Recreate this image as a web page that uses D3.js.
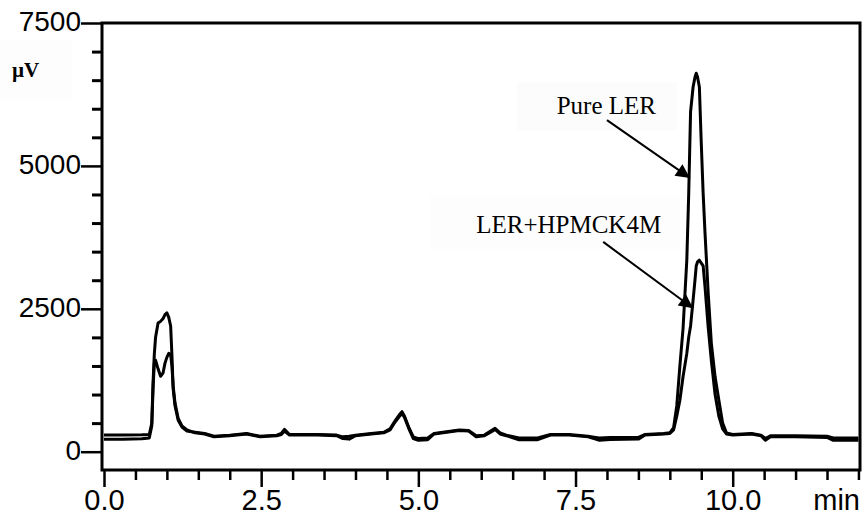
<!DOCTYPE html>
<html>
<head>
<meta charset="utf-8">
<script src="https://cdn.jsdelivr.net/npm/d3@7"></script>
<style>
  html, body { margin: 0; padding: 0; background: #fff; }
  svg { display: block; }
</style>
</head>
<body>
<svg id="chart" width="867" height="520"></svg>
<script>
// Retention times (min) shared by both chromatograms
const times = [0, 0.3, 0.6, 0.72, 0.76, 0.78, 0.80, 0.82, 0.86, 0.90, 0.94, 0.97, 1.00, 1.03, 1.06, 1.08, 1.10, 1.13, 1.18, 1.24, 1.32, 1.45, 1.6, 1.75, 2.0, 2.27, 2.48, 2.75, 2.82, 2.87, 2.95, 3.1, 3.4, 3.7, 3.8, 3.9, 4.0, 4.25, 4.45, 4.55, 4.63, 4.70, 4.74, 4.78, 4.85, 4.92, 5.0, 5.15, 5.25, 5.45, 5.65, 5.8, 5.92, 6.05, 6.15, 6.22, 6.30, 6.40, 6.6, 6.9, 7.1, 7.4, 7.7, 7.82, 7.88, 8.05, 8.5, 8.6, 8.9, 9.0, 9.06, 9.11, 9.16, 9.21, 9.27, 9.30, 9.33, 9.37, 9.40, 9.42, 9.44, 9.47, 9.50, 9.53, 9.56, 9.61, 9.66, 9.72, 9.78, 9.84, 9.90, 10.0, 10.3, 10.45, 10.52, 10.6, 11.0, 11.5, 11.6, 12.0];

// Detector response (µV) for pure LER
const pureLER = [290, 290, 295, 300, 500, 1200, 1700, 2000, 2250, 2280, 2330, 2400, 2430, 2350, 2200, 1700, 1100, 800, 550, 430, 360, 340, 320, 270, 290, 320, 270, 290, 320, 390, 300, 300, 300, 290, 260, 270, 290, 320, 340, 400, 540, 650, 700, 620, 420, 260, 230, 240, 320, 350, 380, 370, 280, 290, 360, 410, 330, 290, 240, 240, 300, 300, 270, 250, 240, 250, 250, 300, 320, 330, 420, 800, 1500, 2150, 3350, 4500, 5950, 6380, 6550, 6620, 6560, 6380, 5400, 4520, 3820, 2780, 1900, 1310, 900, 500, 330, 300, 320, 290, 230, 280, 280, 270, 240, 240];

// Detector response (µV) for LER + HPMC K4M
const lerHPMC = [220, 220, 225, 240, 450, 1100, 1550, 1600, 1450, 1320, 1380, 1550, 1650, 1720, 1700, 1500, 1150, 850, 580, 450, 380, 330, 310, 260, 280, 310, 260, 280, 300, 360, 290, 290, 290, 280, 230, 220, 280, 310, 330, 380, 520, 620, 670, 600, 400, 230, 200, 210, 310, 340, 370, 360, 260, 280, 340, 390, 310, 280, 210, 210, 290, 290, 260, 220, 200, 215, 220, 290, 310, 320, 380, 620, 900, 1310, 1720, 2000, 2200, 2650, 3000, 3250, 3320, 3350, 3300, 3250, 2880, 2180, 1600, 1000, 620, 400, 310, 290, 310, 280, 200, 260, 260, 250, 200, 200];

// Axis ticks
const xMajorTicks = [0, 2.5, 5, 7.5, 10];
const xTickLabels = ["0.0", "2.5", "5.0", "7.5", "10.0"];
const yMajorTicks = [0, 2500, 5000, 7500];
const yTickLabels = ["0", "2500", "5000", "7500"];

// Annotation labels and arrows, positioned in data units (time, µV)
const annotations = [
  { text: "Pure LER",    labelT: 7.20, labelV: 5910, tailT: 8.00, tailV: 5800, tipT: 9.32, tipV: 4790 },
  { text: "LER+HPMCK4M", labelT: 5.92, labelV: 3830, tailT: 7.94, tailV: 3670, tipT: 9.37, tipV: 2510 }
];

const svg = d3.select("#chart");
const box = { left: 102, right: 860, top: 23, bottom: 470 };

const x = d3.scaleLinear().domain([0, 10]).range([104, 732.7]);
const y = d3.scaleLinear().domain([0, 7500]).range([451.7, 23]);

const tickFont = "'Liberation Sans', Arial, sans-serif";
const serif = "'Liberation Serif', 'Times New Roman', serif";

// Faint label backdrops
svg.append("rect").attr("x", 0).attr("y", 40).attr("width", 72).attr("height", 60).attr("fill", "#fdfdfd");
svg.append("rect").attr("x", 517).attr("y", 82).attr("width", 160).attr("height", 48).attr("fill", "#fcfcfc");
svg.append("rect").attr("x", 430).attr("y", 197).attr("width", 250).attr("height", 52).attr("fill", "#fdfdfd");

// Chromatogram traces
svg.append("clipPath").attr("id", "plotClip")
  .append("rect").attr("x", box.left).attr("y", box.top)
  .attr("width", box.right - box.left).attr("height", box.bottom - box.top);

const line = d3.line().x(d => x(d[0])).y(d => y(d[1]));
const traces = svg.append("g").attr("clip-path", "url(#plotClip)");
[pureLER, lerHPMC].forEach(vals => {
  traces.append("path")
    .datum(times.map((t, i) => [t, vals[i]]))
    .attr("d", line)
    .attr("fill", "none")
    .attr("stroke", "#000")
    .attr("stroke-width", 3)
    .attr("stroke-linejoin", "round");
});

// Plot frame
svg.append("rect")
  .attr("x", box.left).attr("y", box.top)
  .attr("width", box.right - box.left).attr("height", box.bottom - box.top)
  .attr("fill", "none").attr("stroke", "#000").attr("stroke-width", 3);

// Y axis: major ticks with labels, minor ticks every 500 µV
const yMinor = d3.range(500, 7500, 500).filter(v => v % 2500 !== 0);
svg.append("g").attr("transform", `translate(${box.left},0)`)
  .call(d3.axisLeft(y).tickValues(yMinor).tickSize(10).tickFormat(""))
  .call(g => g.select(".domain").remove())
  .call(g => g.selectAll("line").attr("stroke-width", 3));

const yAxis = svg.append("g").attr("transform", `translate(${box.left},0)`)
  .call(d3.axisLeft(y).tickValues(yMajorTicks).tickSize(21).tickPadding(0)
    .tickFormat((d, i) => yTickLabels[i]))
  .call(g => g.select(".domain").remove());
yAxis.selectAll("line").attr("stroke-width", 2.5);
yAxis.selectAll("text")
  .attr("font-family", tickFont).attr("font-size", 28).attr("fill", "#000")
  .attr("dy", "0.28em");

// X axis: major ticks with labels, minor ticks every 0.5 min
const xMinor = d3.range(0.5, 12.01, 0.5).filter(v => Math.abs(v / 2.5 - Math.round(v / 2.5)) > 1e-6);
svg.append("g").attr("transform", `translate(0,${box.bottom})`)
  .call(d3.axisBottom(x).tickValues(xMinor).tickSize(10).tickFormat(""))
  .call(g => g.select(".domain").remove())
  .call(g => g.selectAll("line").attr("stroke-width", 2.5));

const xAxis = svg.append("g").attr("transform", `translate(0,${box.bottom})`)
  .call(d3.axisBottom(x).tickValues(xMajorTicks).tickSize(17).tickPadding(2)
    .tickFormat((d, i) => xTickLabels[i]))
  .call(g => g.select(".domain").remove());
xAxis.selectAll("line").attr("stroke-width", 2.5);
xAxis.selectAll("text")
  .attr("font-family", tickFont).attr("font-size", 29).attr("fill", "#000");

// Axis unit labels
svg.append("text").attr("x", box.right).attr("y", 510)
  .attr("text-anchor", "end")
  .attr("font-family", tickFont).attr("font-size", 29).attr("fill", "#000")
  .text("min");

svg.append("text").attr("x", 12).attr("y", 77)
  .attr("font-family", serif).attr("font-weight", "bold").attr("font-size", 21).attr("fill", "#000")
  .text("µV");

// Annotations with arrows
svg.append("defs").append("marker")
  .attr("id", "arrowHead")
  .attr("viewBox", "0 0 10 10")
  .attr("refX", 10).attr("refY", 5)
  .attr("markerWidth", 10).attr("markerHeight", 7)
  .attr("markerUnits", "strokeWidth")
  .attr("orient", "auto")
  .append("path").attr("d", "M0,0 L10,5 L0,10 Z").attr("fill", "#000");

annotations.forEach(a => {
  svg.append("text")
    .attr("x", x(a.labelT)).attr("y", y(a.labelV))
    .attr("font-family", serif).attr("font-size", 25).attr("fill", "#000")
    .text(a.text);
  svg.append("line")
    .attr("x1", x(a.tailT)).attr("y1", y(a.tailV))
    .attr("x2", x(a.tipT)).attr("y2", y(a.tipV))
    .attr("stroke", "#000").attr("stroke-width", 2)
    .attr("marker-end", "url(#arrowHead)");
});
</script>
</body>
</html>
